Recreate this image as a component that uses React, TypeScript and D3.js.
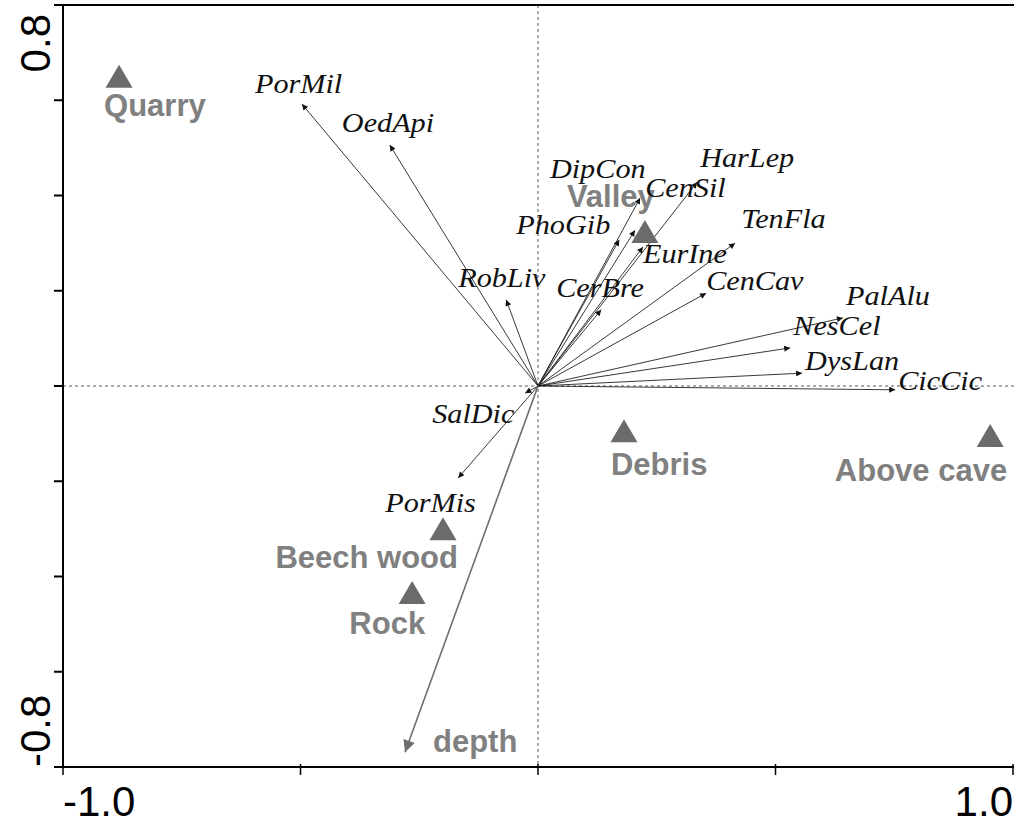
import * as d3 from "d3";

// species scores (arrows)
const speciesNames = ["PorMil", "OedApi", "RobLiv", "DipCon", "CenSil", "HarLep", "PhoGib", "EurIne", "CerBre", "TenFla", "CenCav", "PalAlu", "NesCel", "DysLan", "CicCic", "SalDic", "PorMis"];
const speciesX = [-0.497, -0.312, -0.067, 0.204, 0.215, 0.335, 0.171, 0.221, 0.133, 0.415, 0.354, 0.642, 0.531, 0.556, 0.752, -0.027, -0.168];
const speciesY = [0.592, 0.506, 0.181, 0.327, 0.395, 0.428, 0.307, 0.292, 0.16, 0.3, 0.195, 0.143, 0.08, 0.027, -0.008, -0.015, -0.193];

// quantitative environmental variable
const envNames = ["depth"];
const envX = [-0.28];
const envY = [-0.769];

// nominal variable centroids
const centroidNames = ["Quarry", "Valley", "Debris", "Above cave", "Beech wood", "Rock"];
const centroidX = [-0.882, 0.225, 0.181, 0.952, -0.2, -0.265];
const centroidY = [0.647, 0.321, -0.097, -0.107, -0.303, -0.437];

const xTicks = [-1, -0.5, 0, 0.5, 1];
const yTicks = [-0.8, -0.6, -0.4, -0.2, 0, 0.2, 0.4, 0.6, 0.8];
const xTickLabels = ["-1.0", "1.0"];
const yTickLabels = ["-0.8", "0.8"];

// label placement (pixel offsets from the arrow tip / triangle)
const speciesLabelOffset: Record<string, [number, number]> = {
  PorMil: [-47, -11],
  OedApi: [-48, -13],
  RobLiv: [-48, -13],
  DipCon: [-85, -52],
  CenSil: [5, -1],
  HarLep: [3, -15],
  PhoGib: [-103, -6],
  EurIne: [0, 16],
  CerBre: [-45, -13],
  TenFla: [6, -15],
  CenCav: [0, -3],
  PalAlu: [3, -13],
  NesCel: [3, -13],
  DysLan: [3, -3],
  CicCic: [3, 0],
  SalDic: [-93, 30],
  PorMis: [-73, 34],
};
const centroidLabel: Record<string, { dx: number; dy: number; anchor: string }> = {
  Quarry: { dx: -15, dy: 38, anchor: "start" },
  Valley: { dx: -78, dy: -26, anchor: "start" },
  Debris: { dx: -13, dy: 43, anchor: "start" },
  "Above cave": { dx: 17, dy: 44, anchor: "end" },
  "Beech wood": { dx: 15, dy: 38, anchor: "end" },
  Rock: { dx: 13, dy: 40, anchor: "end" },
};

const W = 1014;
const H = 819;
const left = 63;
const right = 1013;
const top = 5;
const bottom = 767;

export default function App() {
  const x = d3.scaleLinear().domain([-1, 1]).range([left, right]);
  const y = d3.scaleLinear().domain([-0.8, 0.8]).range([bottom, top]);
  const ox = x(0);
  const oy = y(0);

  const tri = (cx: number, cy: number) =>
    `M${cx},${cy - 13}L${cx + 13.5},${cy + 10}L${cx - 13.5},${cy + 10}Z`;

  const serif = "'Liberation Serif', 'Times New Roman', serif";
  const sans = "'Liberation Sans', Arial, sans-serif";

  return (
    <svg
      width={W}
      height={H}
      style={{ position: "absolute", left: 0, top: 0, background: "#fff" }}
    >
      <defs>
        <marker id="arr" viewBox="0 0 10 10" refX="10" refY="5" markerWidth="8" markerHeight="6" markerUnits="userSpaceOnUse" orient="auto">
          <path d="M0,0L10,5L0,10Z" fill="#111" />
        </marker>
        <marker id="arrEnv" viewBox="0 0 10 10" refX="10" refY="5" markerWidth="15" markerHeight="12" markerUnits="userSpaceOnUse" orient="auto">
          <path d="M0,0L10,5L0,10Z" fill="#6e6e6e" />
        </marker>
      </defs>

      {/* zero lines */}
      <line x1={left} x2={W} y1={oy} y2={oy} stroke="#555" strokeWidth={1} strokeDasharray="3,3" />
      <line x1={ox} x2={ox} y1={top} y2={bottom} stroke="#555" strokeWidth={1} strokeDasharray="3,3" />

      {/* frame */}
      <line x1={left} x2={W} y1={top} y2={top} stroke="#000" strokeWidth={2} />
      <line x1={left} x2={left} y1={top} y2={bottom} stroke="#000" strokeWidth={2} />
      <line x1={left - 4} x2={W} y1={bottom} y2={bottom} stroke="#000" strokeWidth={2} />
      {yTicks.map((t) => (
        <line key={`yt${t}`} x1={left - 9} x2={left} y1={y(t)} y2={y(t)} stroke="#000" strokeWidth={2} />
      ))}
      {xTicks.map((t) => (
        <line key={`xt${t}`} x1={x(t)} x2={x(t)} y1={bottom - 3} y2={bottom + 8} stroke="#000" strokeWidth={1.5} />
      ))}

      {/* tick labels */}
      <text x={x(-1)} y={816} fontFamily={sans} fontSize={42} textAnchor="start">{xTickLabels[0]}</text>
      <text x={x(1)} y={816} fontFamily={sans} fontSize={42} textAnchor="end">{xTickLabels[1]}</text>
      <text transform={`translate(50,${y(-0.8)}) rotate(-90)`} fontFamily={sans} fontSize={42} textAnchor="start">{yTickLabels[0]}</text>
      <text transform={`translate(50,14) rotate(-90)`} fontFamily={sans} fontSize={42} textAnchor="end">{yTickLabels[1]}</text>

      {/* species arrows */}
      {speciesNames.map((n, i) => (
        <line key={n} x1={ox} y1={oy} x2={x(speciesX[i])} y2={y(speciesY[i])} stroke="#222" strokeWidth={0.9} markerEnd="url(#arr)" />
      ))}

      {/* environmental arrow */}
      {envNames.map((n, i) => (
        <g key={n}>
          <line x1={ox} y1={oy} x2={x(envX[i])} y2={y(envY[i])} stroke="#6e6e6e" strokeWidth={1.6} markerEnd="url(#arrEnv)" />
          <text x={x(envX[i]) + 28} y={y(envY[i])} fontFamily={sans} fontWeight="bold" fontSize={31} fill="#808080">{n}</text>
        </g>
      ))}

      {/* centroids */}
      {centroidNames.map((n, i) => {
        const cx = x(centroidX[i]);
        const cy = y(centroidY[i]);
        const l = centroidLabel[n];
        return (
          <g key={n}>
            <path d={tri(cx, cy)} fill="#6b6b6b" />
            <text x={cx + l.dx} y={cy + l.dy} textAnchor={l.anchor} fontFamily={sans} fontWeight="bold" fontSize={31} fill="#808080">{n}</text>
          </g>
        );
      })}

      {/* species labels */}
      {speciesNames.map((n, i) => {
        const [dx, dy] = speciesLabelOffset[n];
        return (
          <text
            key={`l${n}`}
            transform={`translate(${x(speciesX[i]) + dx},${y(speciesY[i]) + dy}) scale(1.08,1)`}
            fontFamily={serif}
            fontStyle="italic"
            fontSize={28}
            fill="#111"
          >
            {n}
          </text>
        );
      })}
    </svg>
  );
}
